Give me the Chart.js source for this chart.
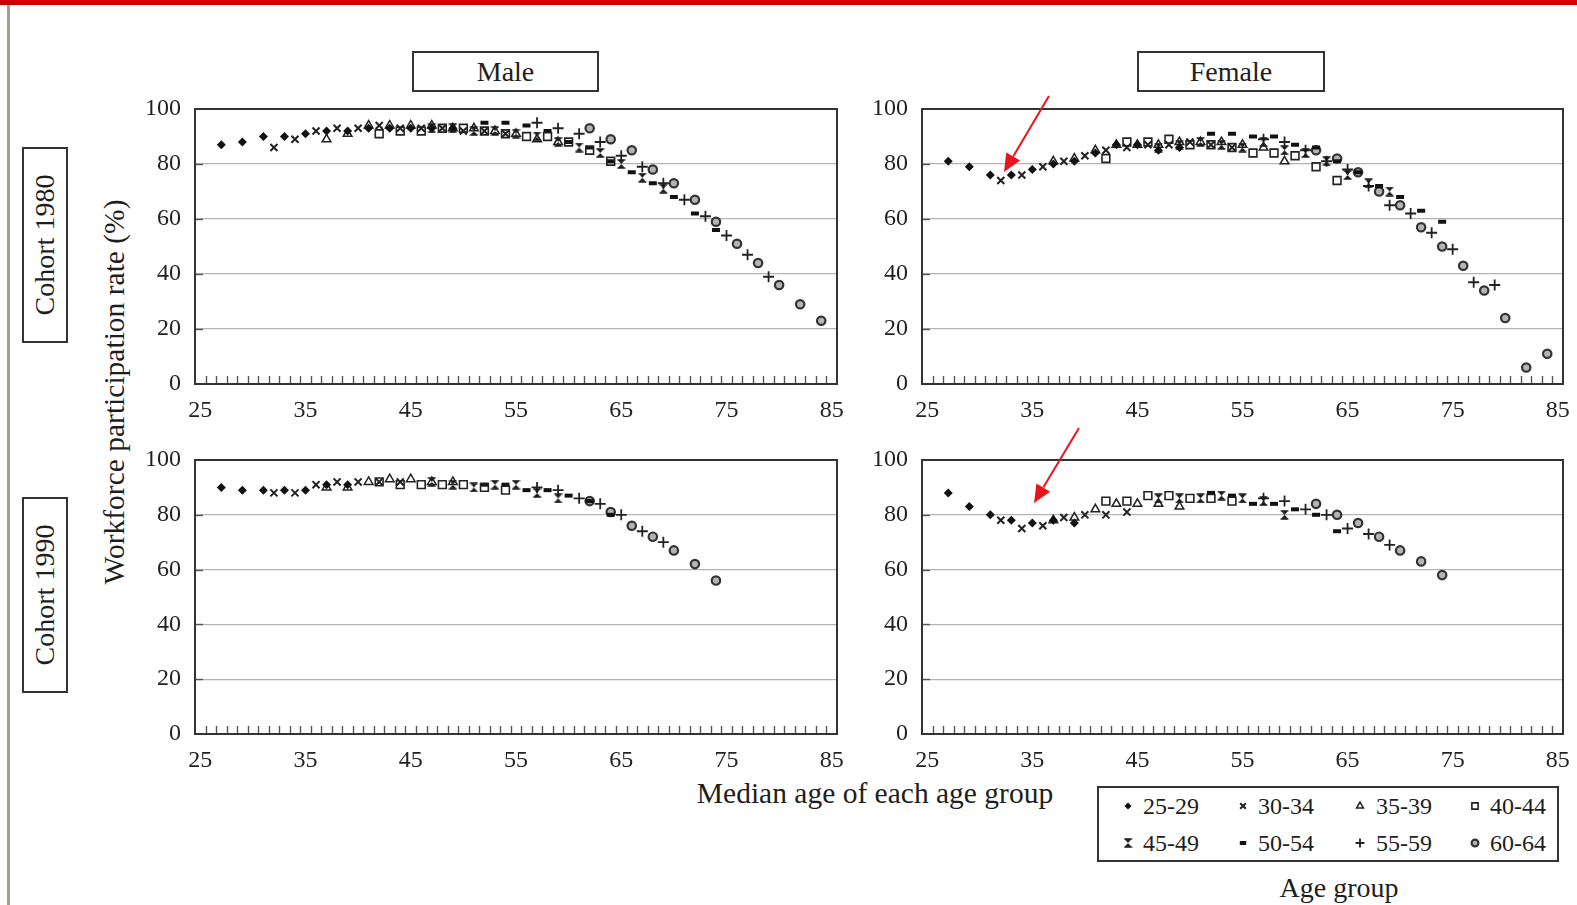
<!DOCTYPE html>
<html><head><meta charset="utf-8">
<script src="https://cdn.jsdelivr.net/npm/chart.js@4.4.1/dist/chart.umd.min.js"></script>
<style>
html,body{margin:0;padding:0;background:#fff;}
body{width:1577px;height:905px;position:relative;overflow:hidden;font-family:"Liberation Serif","DejaVu Serif",serif;color:#1e1e1e;}
#topbar{position:absolute;left:0;top:0;width:1577px;height:5px;background:#cc0000;}
#leftbar{position:absolute;left:7px;top:5px;width:3px;height:900px;background:#a39e95;}
.box{position:absolute;border:2px solid #333;background:#fff;display:flex;align-items:center;justify-content:center;font-size:28px;box-sizing:border-box;}
.box span{white-space:nowrap;}
.vbox span{transform:rotate(-90deg);}
.txt{position:absolute;white-space:nowrap;font-size:29.5px;transform:translate(-50%,-50%);}
canvas.panel{position:absolute;}
#legend{position:absolute;left:1097px;top:786px;width:462px;height:76px;border:2px solid #333;box-sizing:border-box;background:#fff;}
.lg{position:absolute;font-size:24px;line-height:24px;white-space:nowrap;}
.lgc{position:absolute;}
#overlay{position:absolute;left:0;top:0;pointer-events:none;}
</style></head>
<body>
<div id="topbar"></div>
<div id="leftbar"></div>

<div class="box" style="left:412px;top:51px;width:187px;height:41px;"><span>Male</span></div>
<div class="box" style="left:1137px;top:51px;width:188px;height:41px;"><span>Female</span></div>
<div class="box vbox" style="left:22px;top:147px;width:46px;height:196px;"><span>Cohort 1980</span></div>
<div class="box vbox" style="left:22px;top:497px;width:46px;height:196px;"><span>Cohort 1990</span></div>
<div class="txt" style="left:114px;top:392px;transform:translate(-50%,-50%) rotate(-90deg);">Workforce participation rate (%)</div>
<div class="txt" style="left:875px;top:793px;">Median age of each age group</div>
<div class="txt" style="left:1339px;top:888px;font-size:28px;">Age group</div>

<canvas id="m80" class="panel"></canvas>
<canvas id="f80" class="panel"></canvas>
<canvas id="m90" class="panel"></canvas>
<canvas id="f90" class="panel"></canvas>

<div id="legend"></div>
<canvas id="overlay" width="1577" height="905"></canvas>

<script>
// ---------- categories / ticks ----------
const ageGroups = ['25-29','30-34','35-39','40-44','45-49','50-54','55-59','60-64'];
const groupMedians = [27, 32, 37, 42, 47, 52, 57, 62];
const offsets1980 = [0, 2, 4, 6, 8, 10, 12, 14, 16, 18, 20, 22];
const offsets1990 = [0, 2, 4, 6, 8, 10, 12];
const xTickLabels = [25, 35, 45, 55, 65, 75, 85];
const yTickLabels = [0, 20, 40, 60, 80, 100];

// ---------- Male, cohort 1980 ----------
const m1980_25to29 = [87, 88, 90, 90, 91, 92, 92, 93, 93, 93, 93, 93];
const m1980_30to34 = [86, 89, 92, 93, 93, 94, 93, 93, 93, 92, 92, 91];
const m1980_35to39 = [89, 91, 94, 94, 94, 94, 93, 93, 92, 91, 89, 88];
const m1980_40to44 = [91, 92, 92, 93, 93, 92, 91, 90, 90, 88, 85, 81];
const m1980_45to49 = [93, 93, 92, 92, 91, 90, 88, 86, 84, 80, 75, 71];
const m1980_50to54 = [95, 95, 94, 92, 88, 86, 81, 77, 73, 68, 62, 56];
const m1980_55to59 = [95, 93, 91, 88, 83, 79, 73, 67, 61, 54, 47, 39];
const m1980_60to64 = [93, 89, 85, 78, 73, 67, 59, 51, 44, 36, 29, 23];

// ---------- Female, cohort 1980 ----------
const f1980_25to29 = [81, 79, 76, 76, 78, 80, 81, 84, 87, 87, 85, 86];
const f1980_30to34 = [74, 76, 79, 81, 83, 85, 86, 87, 87, 88, 87, 86];
const f1980_35to39 = [81, 82, 85, 87, 87, 87, 88, 88, 88, 87, 86, 81];
const f1980_40to44 = [82, 88, 88, 89, 87, 87, 86, 84, 84, 83, 79, 74];
const f1980_45to49 = [86, 87, 88, 87, 86, 88, 85, 84, 81, 76, 73, 70];
const f1980_50to54 = [91, 91, 90, 90, 87, 86, 81, 77, 72, 68, 63, 59];
const f1980_55to59 = [89, 88, 85, 81, 78, 72, 65, 62, 55, 49, 37, 36];
const f1980_60to64 = [85, 82, 77, 70, 65, 57, 50, 43, 34, 24, 6, 11];

// ---------- Male, cohort 1990 ----------
const m1990_25to29 = [90, 89, 89, 89, 89, 91, 91];
const m1990_30to34 = [88, 88, 91, 92, 92, 92, 92];
const m1990_35to39 = [90, 90, 92, 93, 93, 92, 92];
const m1990_40to44 = [92, 91, 91, 91, 91, 90, 89];
const m1990_45to49 = [92, 91, 90, 91, 91, 88, 86];
const m1990_50to54 = [91, 91, 89, 89, 87, 85, 80];
const m1990_55to59 = [90, 89, 86, 84, 80, 74, 70];
const m1990_60to64 = [85, 81, 76, 72, 67, 62, 56];

// ---------- Female, cohort 1990 ----------
const f1990_25to29 = [88, 83, 80, 78, 77, 78, 77];
const f1990_30to34 = [78, 75, 76, 79, 80, 80, 81];
const f1990_35to39 = [78, 79, 82, 84, 84, 84, 83];
const f1990_40to44 = [85, 85, 87, 87, 86, 86, 85];
const f1990_45to49 = [86, 86, 86, 87, 86, 85, 80];
const f1990_50to54 = [88, 87, 84, 84, 82, 80, 74];
const f1990_55to59 = [86, 85, 82, 80, 75, 73, 69];
const f1990_60to64 = [84, 80, 77, 72, 67, 63, 58];

const male1980 = [m1980_25to29, m1980_30to34, m1980_35to39, m1980_40to44, m1980_45to49, m1980_50to54, m1980_55to59, m1980_60to64];
const female1980 = [f1980_25to29, f1980_30to34, f1980_35to39, f1980_40to44, f1980_45to49, f1980_50to54, f1980_55to59, f1980_60to64];
const male1990 = [m1990_25to29, m1990_30to34, m1990_35to39, m1990_40to44, m1990_45to49, m1990_50to54, m1990_55to59, m1990_60to64];
const female1990 = [f1990_25to29, f1990_30to34, f1990_35to39, f1990_40to44, f1990_45to49, f1990_50to54, f1990_55to59, f1990_60to64];

// ---------- marker styles ----------
function makeHourglass(){
  const c = document.createElement('canvas'); c.width = 9; c.height = 10;
  const g = c.getContext('2d');
  g.fillStyle = '#1a1a1a';
  g.beginPath(); g.moveTo(0.5,0.5); g.lineTo(8.5,0.5); g.lineTo(0.5,9.5); g.lineTo(8.5,9.5); g.closePath(); g.fill();
  g.strokeStyle = '#1a1a1a'; g.lineWidth = 1.2;
  g.beginPath(); g.moveTo(0.5,1); g.lineTo(8.5,1); g.moveTo(0.5,9); g.lineTo(8.5,9); g.stroke();
  return c;
}
const hourglass = makeHourglass();
const markerStyles = [
  {pointStyle:'rectRot',  radius:4.5, borderWidth:0,   bg:'#111', fg:'#111'},
  {pointStyle:'crossRot', radius:5,   borderWidth:2,   bg:'#222', fg:'#222'},
  {pointStyle:'triangle', radius:5,   borderWidth:1.5, bg:'rgba(255,255,255,0)', fg:'#222'},
  {pointStyle:'rect',     radius:5.5, borderWidth:1.6, bg:'rgba(255,255,255,0)', fg:'#222'},
  {pointStyle:hourglass,  radius:5,   borderWidth:0,   bg:'#111', fg:'#111'},
  {pointStyle:'line',     radius:4,   borderWidth:4,   bg:'#111', fg:'#111'},
  {pointStyle:'cross',    radius:5.5, borderWidth:1.8, bg:'#222', fg:'#222'},
  {pointStyle:'circle',   radius:4.2, borderWidth:2.2, bg:'#b4b4b4', fg:'#333'}
];

Chart.defaults.font.family = "'Liberation Serif', 'DejaVu Serif', serif";
Chart.defaults.font.size = 24;
Chart.defaults.color = '#222';

const minorTicks = [];
for (let v = 25.5; v < 85; v += 1) minorTicks.push(v);

const framePlugin = {
  id: 'frame',
  beforeDatasetsDraw(chart){
    const ctx = chart.ctx, a = chart.chartArea, x = chart.scales.x, y = chart.scales.y;
    ctx.save();
    ctx.strokeStyle = '#555'; ctx.lineWidth = 1.4;
    minorTicks.forEach(v => {
      const px = Math.round(x.getPixelForValue(v)) + 0.5;
      ctx.beginPath(); ctx.moveTo(px, a.bottom); ctx.lineTo(px, a.bottom - 8); ctx.stroke();
    });
    [20,40,60,80].forEach(v => {
      const py = Math.round(y.getPixelForValue(v)) + 0.5;
      ctx.beginPath(); ctx.moveTo(a.left, py); ctx.lineTo(a.left + 8, py); ctx.stroke();
    });
    ctx.strokeStyle = '#333'; ctx.lineWidth = 2;
    ctx.strokeRect(a.left, a.top, a.right - a.left, a.bottom - a.top);
    ctx.restore();
  }
};

const YW = 70, XH = 45, PT = 20, PR = 25;
function makePanel(id, L, T, W, H, series, offsets){
  const cv = document.getElementById(id);
  const cw = W + YW + PR, ch = H + PT + XH;
  cv.width = cw; cv.height = ch;
  cv.style.left = (L - YW) + 'px'; cv.style.top = (T - PT) + 'px';
  cv.style.width = cw + 'px'; cv.style.height = ch + 'px';
  const datasets = series.map((vals, g) => {
    const st = markerStyles[g];
    return {
      label: ageGroups[g],
      data: vals.map((v, i) => ({x: groupMedians[g] + offsets[i], y: v})),
      pointStyle: st.pointStyle, pointRadius: st.radius, pointHoverRadius: st.radius,
      pointBorderWidth: st.borderWidth, pointBackgroundColor: st.bg, pointBorderColor: st.fg,
      borderColor: st.fg, backgroundColor: st.bg, showLine: false
    };
  });
  new Chart(cv, {
    type: 'scatter',
    data: {datasets},
    options: {
      responsive: false, animation: false, devicePixelRatio: 1,
      layout: {padding: {top: PT, right: PR, left: 0, bottom: 0}},
      plugins: {legend: {display: false}, tooltip: {enabled: false}},
      scales: {
        x: {
          type: 'linear', min: 24.5, max: 85.5,
          afterBuildTicks: s => { s.ticks = xTickLabels.map(v => ({value: v})); },
          afterFit: s => { s.height = XH; s.paddingLeft = 0; s.paddingRight = 0; },
          grid: {display: false, drawTicks: false},
          border: {display: false},
          ticks: {padding: 12, maxRotation: 0, autoSkip: false, font: {size: 24}, color: '#222'}
        },
        y: {
          min: 0, max: 100,
          afterBuildTicks: s => { s.ticks = yTickLabels.map(v => ({value: v})); },
          afterFit: s => { s.width = YW; s.paddingTop = 0; s.paddingBottom = 0; },
          grid: {drawTicks: false, color: c => (c.tick && (c.tick.value === 0 || c.tick.value === 100)) ? 'rgba(0,0,0,0)' : '#b4b4b4', lineWidth: 1.2},
          border: {display: false},
          ticks: {padding: 14, autoSkip: false, font: {size: 24}, color: '#222'}
        }
      }
    },
    plugins: [framePlugin]
  });
}

makePanel('m80', 195, 109, 642, 275, male1980, offsets1980);
makePanel('f80', 922, 109, 641, 275, female1980, offsets1980);
makePanel('m90', 195, 460, 642, 274, male1990, offsets1990);
makePanel('f90', 922, 460, 641, 274, female1990, offsets1990);

// ---------- legend ----------
const legend = document.getElementById('legend');
const lgMarkX = [1126, 1241, 1358, 1473];
const lgTextX = [1141, 1256, 1374, 1488];
const lgRowY = [804, 841];
function drawMarker(ctx, st, x, y){
  ctx.fillStyle = st.bg; ctx.strokeStyle = st.fg; ctx.lineWidth = st.borderWidth;
  const opts = {pointStyle: st.pointStyle, radius: st.radius * 0.8, borderWidth: st.borderWidth, rotation: 0};
  if (Chart.helpers && Chart.helpers.drawPoint) {
    Chart.helpers.drawPoint(ctx, opts, x, y);
  } else {
    ctx.beginPath(); ctx.arc(x, y, 3, 0, Math.PI*2); ctx.fill();
  }
}
ageGroups.forEach((g, i) => {
  const col = i % 4, row = Math.floor(i / 4);
  const c = document.createElement('canvas');
  c.width = 16; c.height = 16; c.className = 'lgc';
  c.style.left = (lgMarkX[col] - 8 - 1097) + 'px';
  c.style.top = (lgRowY[row] - 8 - 786) + 'px';
  legend.appendChild(c);
  drawMarker(c.getContext('2d'), markerStyles[i], 8, 8);
  const t = document.createElement('div');
  t.className = 'lg'; t.textContent = g;
  t.style.left = (lgTextX[col] - 1097) + 'px';
  t.style.top = (lgRowY[row] - 12 - 786) + 'px';
  legend.appendChild(t);
});

// ---------- red arrows ----------
const ov = document.getElementById('overlay').getContext('2d');
function arrow(x1, y1, x2, y2){
  const ang = Math.atan2(y2 - y1, x2 - x1), len = 18, half = 8;
  const bx = x2 - len * Math.cos(ang), by = y2 - len * Math.sin(ang);
  ov.strokeStyle = '#e8141a'; ov.fillStyle = '#e8141a'; ov.lineWidth = 2;
  ov.beginPath(); ov.moveTo(x1, y1); ov.lineTo(bx, by); ov.stroke();
  ov.beginPath(); ov.moveTo(x2, y2);
  ov.lineTo(bx + half * Math.sin(ang), by - half * Math.cos(ang));
  ov.lineTo(bx - half * Math.sin(ang), by + half * Math.cos(ang));
  ov.closePath(); ov.fill();
}
arrow(1049, 96, 1004, 172);
arrow(1079, 428, 1034, 503);
</script>
</body></html>
